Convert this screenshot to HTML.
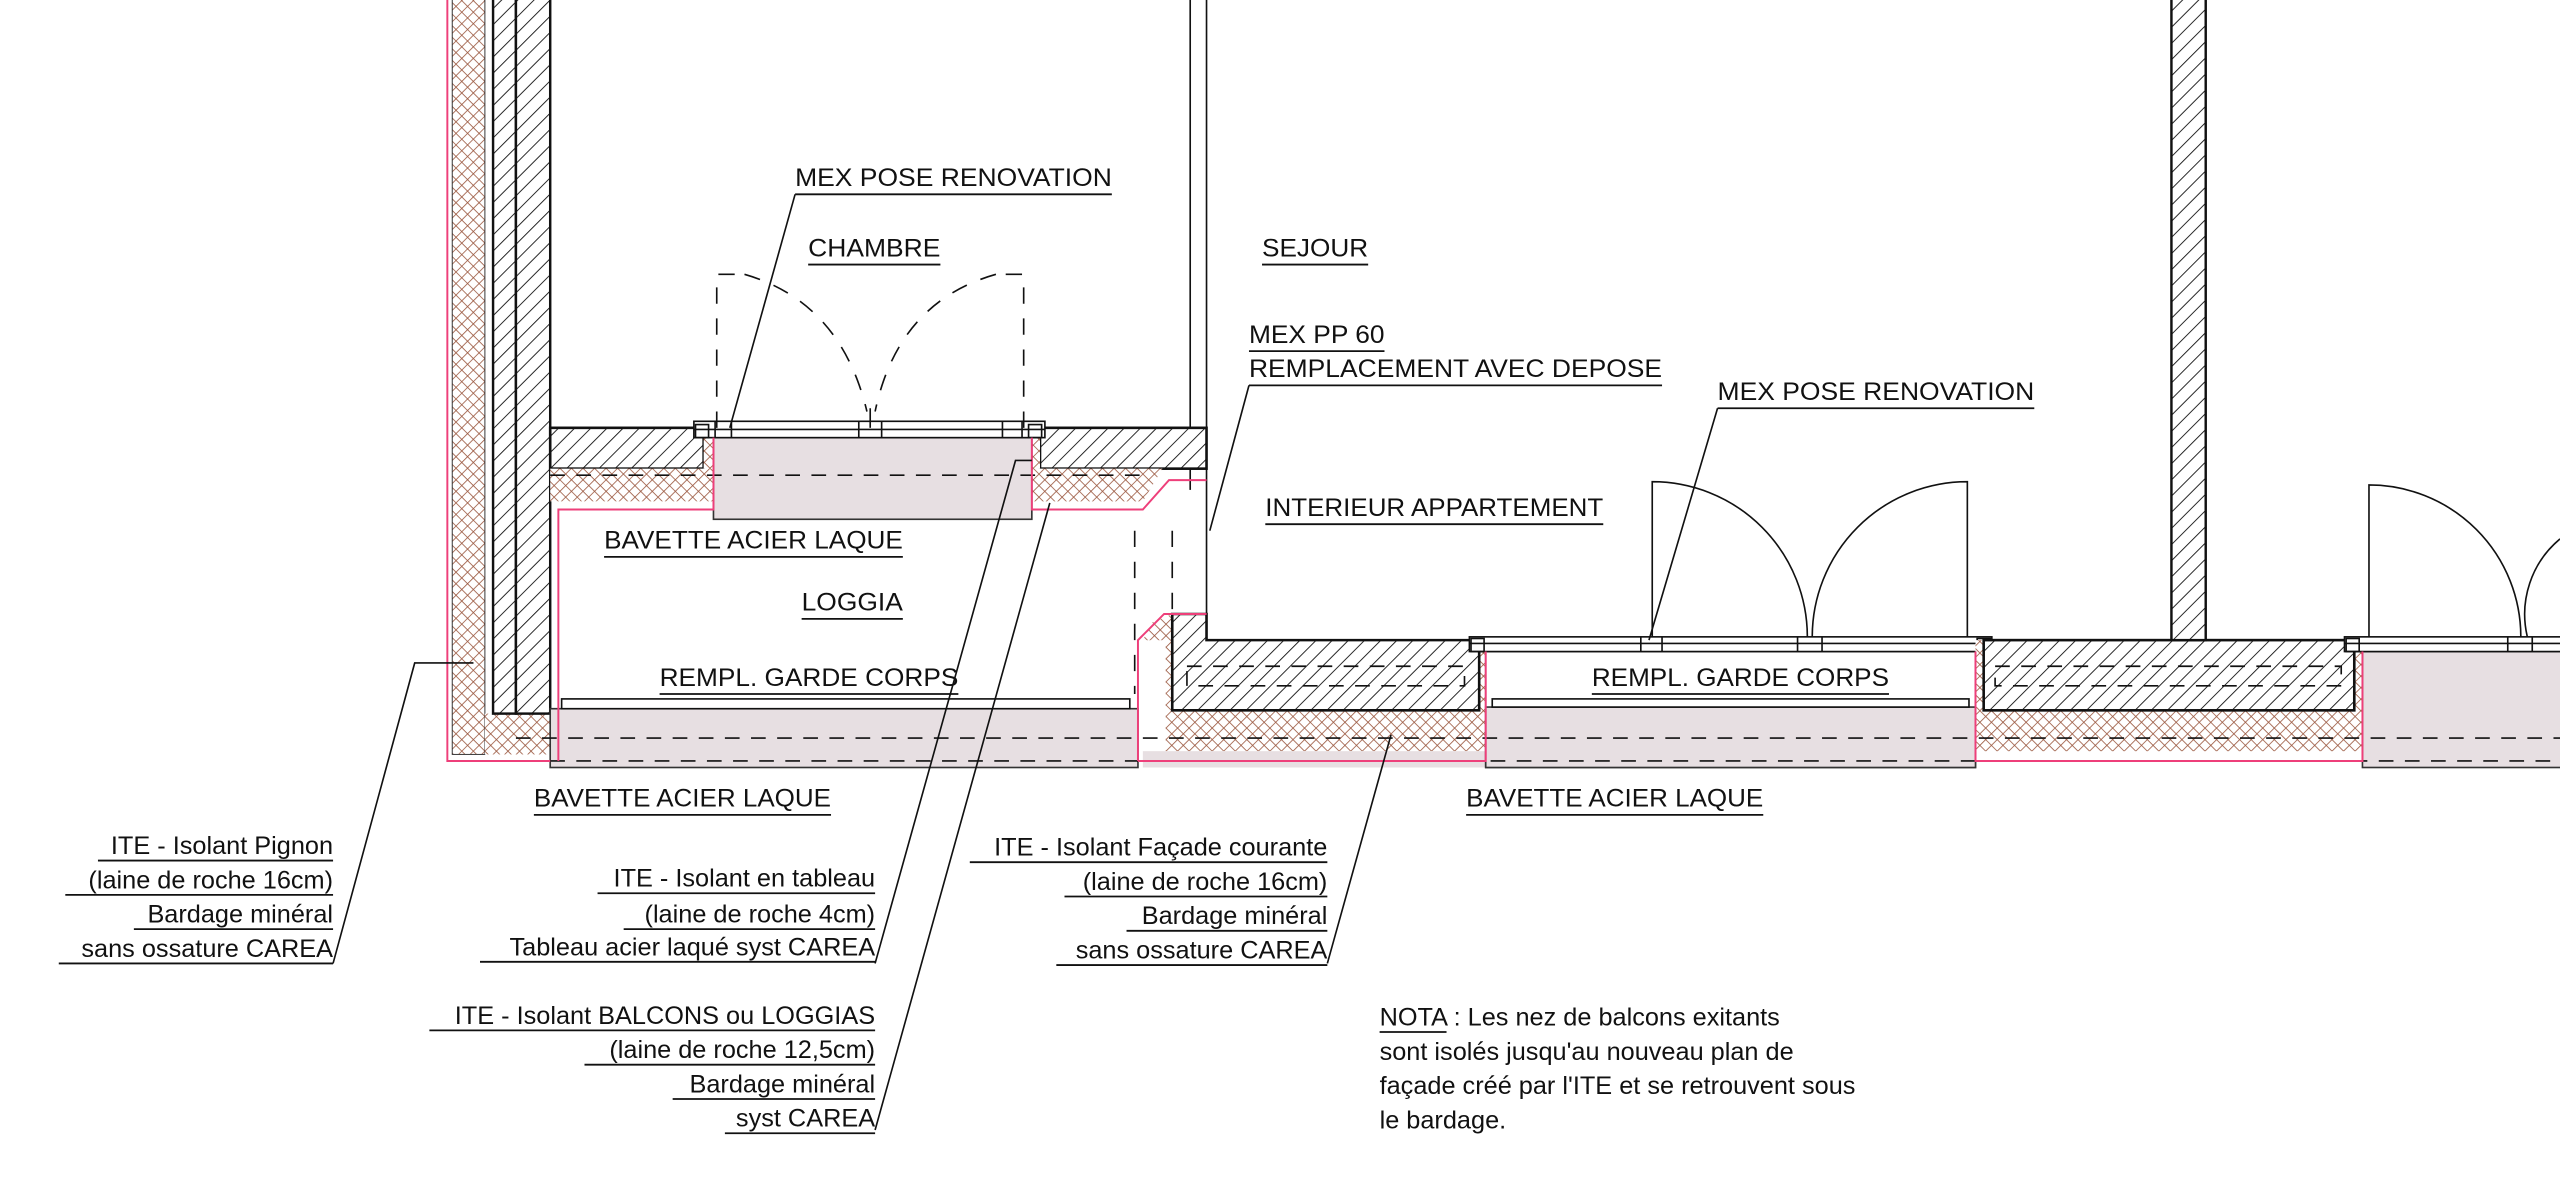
<!DOCTYPE html>
<html><head><meta charset="utf-8"><style>
html,body{margin:0;padding:0;background:#fff;}
svg{display:block;}
text{font-family:"Liberation Sans",sans-serif;font-size:15.5px;fill:#111;}
</style></head><body>
<svg width="2560" height="1179" viewBox="0 0 1568 722" preserveAspectRatio="none" xmlns="http://www.w3.org/2000/svg">
<defs>
<pattern id="h" width="7" height="7" patternUnits="userSpaceOnUse" patternTransform="rotate(45)">
<rect width="7" height="7" fill="#fff"/><line x1="0" y1="0" x2="0" y2="7" stroke="#111" stroke-width="1.1"/></pattern>
<pattern id="x" width="5" height="5" patternUnits="userSpaceOnUse" patternTransform="rotate(45)">
<rect width="5" height="5" fill="#fff"/><line x1="0" y1="0" x2="0" y2="5" stroke="#9c5a42" stroke-width="1"/><line x1="0" y1="0" x2="5" y2="0" stroke="#9c5a42" stroke-width="1"/></pattern>
</defs>
<g stroke="#111" stroke-width="1" fill="none">
<!-- pignon -->
<rect x="277" y="-2" width="20" height="464" fill="url(#x)" stroke="#333" stroke-width="0.6"/>
<rect x="297" y="437" width="40" height="25" fill="url(#x)" stroke="none"/>
<rect x="302" y="-2" width="14" height="439" fill="url(#h)" stroke-width="1.5"/>
<rect x="316" y="-2" width="21" height="439" fill="url(#h)" stroke-width="1.5"/>
<!-- chambre slabs -->
<rect x="337" y="262" width="94" height="25" fill="url(#h)" stroke-width="1.6"/>
<rect x="637" y="262" width="102" height="25" fill="url(#h)" stroke-width="1.6"/>
<rect x="337" y="287" width="100" height="20" fill="url(#x)" stroke="none"/>
<path d="M632 287 H712 L700 307 H632 Z" fill="url(#x)" stroke="none"/>
<rect x="431" y="268" width="6" height="19" fill="url(#x)" stroke="none"/>
<rect x="632" y="268" width="5" height="19" fill="url(#x)" stroke="none"/>
<rect x="437" y="268" width="195" height="50" fill="#e7dfe2" stroke="#333"/>
<line x1="337" y1="291" x2="700" y2="291" stroke-dasharray="9 7"/>
<rect x="425" y="258" width="215" height="10" fill="#fff"/>
<line x1="425" y1="263" x2="640" y2="263"/>
<rect x="426" y="260" width="8" height="8"/><rect x="630" y="260" width="8" height="8"/>
<line x1="438" y1="258" x2="438" y2="268"/><line x1="448" y1="258" x2="448" y2="268"/>
<line x1="526" y1="258" x2="526" y2="268"/><line x1="540" y1="258" x2="540" y2="268"/>
<line x1="614" y1="258" x2="614" y2="268"/><line x1="626" y1="258" x2="626" y2="268"/>
<!-- dashed door -->
<g stroke-dasharray="10 9">
<path d="M439 262 V168 H456"/><path d="M627 262 V168 H610"/>
<path d="M456 168 Q515 185 531 252"/><path d="M610 168 Q550 185 536 252"/>
<line x1="695" y1="325" x2="695" y2="425"/><line x1="718" y1="325" x2="718" y2="376"/>
</g>
<line x1="533" y1="250" x2="533" y2="262"/>
<!-- right column line -->
<line x1="729" y1="-2" x2="729" y2="262"/><line x1="739" y1="-2" x2="739" y2="376"/>
<line x1="729" y1="287" x2="729" y2="300"/>
<!-- loggia -->
<rect x="337" y="434" width="360" height="36" fill="#e7dfe2" stroke="#333"/>
<rect x="344" y="428" width="348" height="6" fill="#fff"/>
<!-- facade block 1 -->
<path d="M700 392 L714 376 V460 H910 V392 H700" fill="url(#x)" stroke="none"/>
<path d="M706 381 L718 376 V435 H906 V392 H700 Z" fill="url(#x)" stroke="none"/>
<path d="M718 376 H739 V392 H906 V435 H718 Z" fill="url(#h)" stroke-width="1.6"/>
<rect x="700" y="460" width="210" height="10" fill="#e7dfe2" stroke="none"/>
<!-- window 2 -->
<rect x="910" y="399" width="300" height="71" fill="#fff" stroke="#333"/>
<rect x="910" y="433" width="300" height="37" fill="#e7dfe2" stroke="#333"/>
<rect x="914" y="428" width="292" height="5" fill="#fff"/>
<rect x="900" y="390" width="320" height="9" fill="#fff"/>
<line x1="900" y1="394" x2="1220" y2="394"/>
<rect x="901" y="391" width="8" height="8"/><rect x="1211" y="391" width="8" height="8"/>
<line x1="1005" y1="390" x2="1005" y2="399"/><line x1="1018" y1="390" x2="1018" y2="399"/>
<line x1="1101" y1="390" x2="1101" y2="399"/><line x1="1116" y1="390" x2="1116" y2="399"/>
<!-- block 2 -->
<rect x="1210" y="392" width="237" height="68" fill="url(#x)" stroke="none"/>
<rect x="1215" y="392" width="227" height="43" fill="url(#h)" stroke-width="1.6"/>
<rect x="1330" y="-2" width="21" height="394" fill="url(#h)" stroke-width="1.5"/>
<!-- window 3 -->
<rect x="1447" y="399" width="125" height="71" fill="#e7dfe2" stroke="#333"/>
<rect x="1436" y="390" width="135" height="9" fill="#fff"/>
<line x1="1436" y1="394" x2="1568" y2="394"/>
<rect x="1437" y="391" width="8" height="8"/>
<line x1="1536" y1="390" x2="1536" y2="399"/><line x1="1551" y1="390" x2="1551" y2="399"/>
<!-- doors -->
<path d="M1012 390 V295 A95 95 0 0 1 1107 390"/>
<path d="M1205 390 V295 A95 95 0 0 0 1110 390"/>
<path d="M1451 390 V297 A93 93 0 0 1 1544 390"/>
<path d="M1568 330 A60 60 0 0 0 1548 390"/>
<!-- dashes -->
<rect x="727" y="408" width="170" height="12" stroke-dasharray="9 7"/>
<rect x="1222" y="408" width="212" height="12" stroke-dasharray="9 7"/>
<line x1="316" y1="452" x2="1568" y2="452" stroke-dasharray="9 7"/>
<line x1="337" y1="466" x2="1568" y2="466" stroke-dasharray="9 7"/>
</g>
<!-- pink lines -->
<g stroke="#ee3f7a" stroke-width="1.2" fill="none">
<path d="M274 -2 V466 H337"/>
<path d="M342 466 V312 H437 V268"/>
<path d="M632 268 V312 H700 L716 294 H739"/>
<path d="M697 466 V392 L713 376 H739"/>
<path d="M697 466 H910 V399"/>
<path d="M1210 399 V466 H1447 V399"/>
</g>
<!-- leaders -->
<g stroke="#111" stroke-width="1" fill="none">
<path d="M487 119 L447 262"/>
<path d="M765 236 L741 325"/>
<path d="M1052 250 L1010 392"/>
<path d="M204 590 L254 406 H290"/>
<path d="M536 590 L622 282 H632"/>
<path d="M536 692 L643 308"/>
<path d="M813 590 L852 450"/>
</g>
<!-- labels -->
<g>
<text x="487" y="114" textLength="194" lengthAdjust="spacingAndGlyphs">MEX POSE RENOVATION</text>
<text x="495" y="157" textLength="81" lengthAdjust="spacingAndGlyphs">CHAMBRE</text>
<text x="773" y="157" textLength="65" lengthAdjust="spacingAndGlyphs">SEJOUR</text>
<text x="765" y="210" textLength="83" lengthAdjust="spacingAndGlyphs">MEX PP 60</text>
<text x="765" y="231" textLength="253" lengthAdjust="spacingAndGlyphs">REMPLACEMENT AVEC DEPOSE</text>
<text x="1052" y="245" textLength="194" lengthAdjust="spacingAndGlyphs">MEX POSE RENOVATION</text>
<text x="775" y="316" textLength="207" lengthAdjust="spacingAndGlyphs">INTERIEUR APPARTEMENT</text>
<text x="370" y="336" textLength="183" lengthAdjust="spacingAndGlyphs">BAVETTE ACIER LAQUE</text>
<text x="491" y="374" textLength="62" lengthAdjust="spacingAndGlyphs">LOGGIA</text>
<text x="404" y="420" textLength="183" lengthAdjust="spacingAndGlyphs">REMPL. GARDE CORPS</text>
<text x="975" y="420" textLength="182" lengthAdjust="spacingAndGlyphs">REMPL. GARDE CORPS</text>
<text x="327" y="494" textLength="182" lengthAdjust="spacingAndGlyphs">BAVETTE ACIER LAQUE</text>
<text x="898" y="494" textLength="182" lengthAdjust="spacingAndGlyphs">BAVETTE ACIER LAQUE</text>
<g text-anchor="end">
<text x="204" y="523">ITE - Isolant Pignon</text>
<text x="204" y="544">(laine de roche 16cm)</text>
<text x="204" y="565">Bardage minéral</text>
<text x="204" y="586">sans ossature CAREA</text>
<text x="536" y="543">ITE - Isolant en tableau</text>
<text x="536" y="565">(laine de roche 4cm)</text>
<text x="536" y="585">Tableau acier laqué syst CAREA</text>
<text x="536" y="627">ITE - Isolant BALCONS ou LOGGIAS</text>
<text x="536" y="648">(laine de roche 12,5cm)</text>
<text x="536" y="669">Bardage minéral</text>
<text x="536" y="690">syst CAREA</text>
<text x="813" y="524">ITE - Isolant Façade courante</text>
<text x="813" y="545">(laine de roche 16cm)</text>
<text x="813" y="566">Bardage minéral</text>
<text x="813" y="587">sans ossature CAREA</text>
</g>
<text x="845" y="628">NOTA : Les nez de balcons exitants</text>
<text x="845" y="649">sont isolés jusqu'au nouveau plan de</text>
<text x="845" y="670">façade créé par l'ITE et se retrouvent sous</text>
<text x="845" y="691">le bardage.</text>
</g>
<!-- underlines -->
<g stroke="#111" stroke-width="1.1">
<line x1="487" y1="119" x2="681" y2="119"/>
<line x1="495" y1="162" x2="576" y2="162"/>
<line x1="773" y1="162" x2="838" y2="162"/>
<line x1="765" y1="215" x2="848" y2="215"/>
<line x1="765" y1="236" x2="1018" y2="236"/>
<line x1="1052" y1="250" x2="1246" y2="250"/>
<line x1="775" y1="321" x2="982" y2="321"/>
<line x1="370" y1="341" x2="553" y2="341"/>
<line x1="491" y1="379" x2="553" y2="379"/>
<line x1="404" y1="425" x2="587" y2="425"/>
<line x1="975" y1="425" x2="1157" y2="425"/>
<line x1="327" y1="499" x2="509" y2="499"/>
<line x1="898" y1="499" x2="1080" y2="499"/>
<line x1="60" y1="527" x2="204" y2="527"/>
<line x1="40" y1="548" x2="204" y2="548"/>
<line x1="82" y1="569" x2="204" y2="569"/>
<line x1="36" y1="590" x2="204" y2="590"/>
<line x1="366" y1="547" x2="536" y2="547"/>
<line x1="382" y1="569" x2="536" y2="569"/>
<line x1="294" y1="589" x2="536" y2="589"/>
<line x1="263" y1="631" x2="536" y2="631"/>
<line x1="358" y1="652" x2="536" y2="652"/>
<line x1="412" y1="673" x2="536" y2="673"/>
<line x1="444" y1="694" x2="536" y2="694"/>
<line x1="594" y1="528" x2="813" y2="528"/>
<line x1="652" y1="549" x2="813" y2="549"/>
<line x1="690" y1="570" x2="813" y2="570"/>
<line x1="647" y1="591" x2="813" y2="591"/>
<line x1="845" y1="632" x2="886" y2="632"/>
</g>
</svg>
</body></html>
